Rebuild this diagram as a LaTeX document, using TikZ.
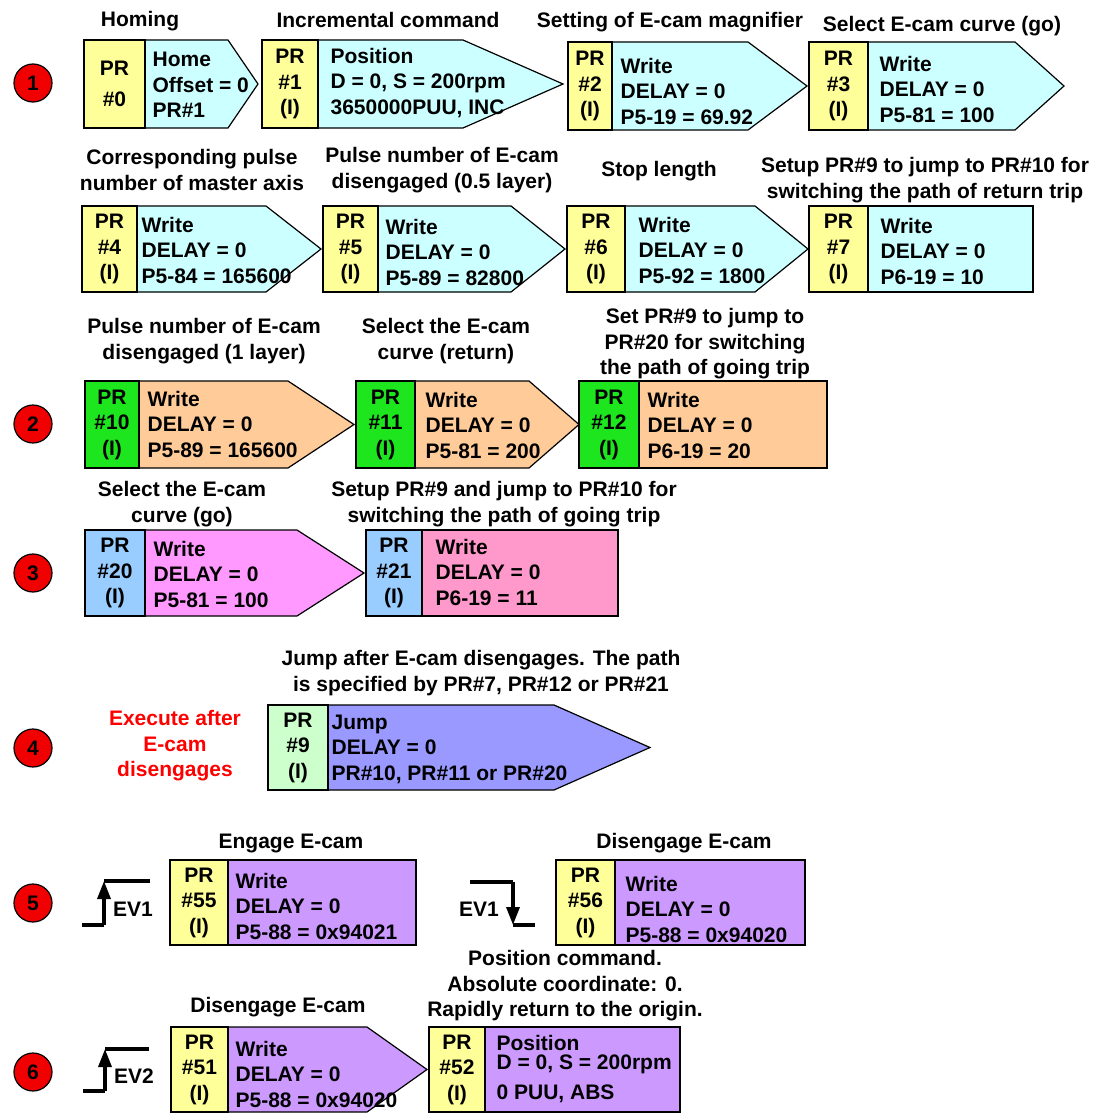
\documentclass[tikz,border=0pt]{standalone}
\usepackage{fontspec}
\setmainfont{Liberation Sans}
\usetikzlibrary{positioning, calc, arrows.meta}

\definecolor{tagyellow}{RGB}{255,255,153}
\definecolor{taggreen}{RGB}{30,230,30}
\definecolor{tagblue}{RGB}{153,204,255}
\definecolor{taglime}{RGB}{204,255,204}
\definecolor{camcyan}{RGB}{204,255,255}
\definecolor{camorange}{RGB}{255,204,153}
\definecolor{campink}{RGB}{255,153,255}
\definecolor{camrose}{RGB}{255,153,204}
\definecolor{camviolet}{RGB}{153,153,255}
\definecolor{campurple}{RGB}{204,153,255}
\definecolor{numred}{RGB}{240,0,0}

\begin{document}
\begin{tikzpicture}[x=1pt, y=-1pt, line width=1.2pt,
    every node/.style={font=\bfseries\fontsize{21}{25.5}\selectfont},
    tag/.style={draw, fill=tagyellow, align=center, inner sep=0pt},
    txt/.style={anchor=west, align=left, inner sep=0pt},
    hdr/.style={align=center, inner sep=0pt},
    num/.style={circle, draw, fill=numred, minimum size=38pt, inner sep=0pt},
    body/.style={draw, line join=miter},
    evline/.style={draw, line width=3.4pt},
    evtip/.style={-{Triangle[length=18pt,width=13pt]}}]
        \useasboundingbox (0,0) rectangle (1096,1113);

        % row 1
        \node[num] (n1) at (33,83) {1};
        \filldraw[body, fill=camcyan] (145,40) -- (228,40) -- (258,84) -- (228,128) -- (145,128) -- cycle;
        \node[tag, minimum width=61pt, minimum height=88pt] (pr0) at (114.5,84) {PR\\[6pt]\#0};
        \node[txt] (pr0-txt) at (152,85) {Home\\Offset = 0\\PR\#1};
        \node[hdr] (pr0-hdr) at (140,21) {Homing};

        \filldraw[body, fill=camcyan] (318,40) -- (463,40) -- (563,84) -- (463,128) -- (318,128) -- cycle;
        \node[tag, minimum width=56pt, minimum height=88pt] (pr1) at (290,84) {PR\\\#1\\(I)};
        \node[txt] (pr1-txt) at (330,83) {Position\\D = 0, S = 200rpm\\3650000PUU, INC};
        \node[hdr] (pr1-hdr) at (388,20) {Incremental command};

        \filldraw[body, fill=camcyan] (612,42) -- (748,42) -- (807,86) -- (748,130) -- (612,130) -- cycle;
        \node[tag, minimum width=44pt, minimum height=88pt] (pr2) at (590,86) {PR\\\#2\\(I)};
        \node[txt] (pr2-txt) at (620,91) {Write\\DELAY = 0\\P5-19 = 69.92};
        \node[hdr] (pr2-hdr) at (670,22) {Setting of E-cam magnifier};

        \filldraw[body, fill=camcyan] (868,42) -- (1015,42) -- (1064,86) -- (1015,130) -- (868,130) -- cycle;
        \node[tag, minimum width=59pt, minimum height=88pt] (pr3) at (838.5,86) {PR\\\#3\\(I)};
        \node[txt] (pr3-txt) at (879,89) {Write\\DELAY = 0\\P5-81 = 100};
        \node[hdr] (pr3-hdr) at (942,26) {Select E-cam curve (go)};

        % row 1, second line
        \filldraw[body, fill=camcyan] (137,206) -- (266,206) -- (321,249) -- (266,292) -- (137,292) -- cycle;
        \node[tag, minimum width=55pt, minimum height=86pt] (pr4) at (109.5,249) {PR\\\#4\\(I)};
        \node[txt] (pr4-txt) at (141,250) {Write\\DELAY = 0\\P5-84 = 165600};
        \node[hdr] (pr4-hdr) at (192,170) {Corresponding pulse\\number of master axis};

        \filldraw[body, fill=camcyan] (378,206) -- (511,206) -- (565,249) -- (511,292) -- (378,292) -- cycle;
        \node[tag, minimum width=55pt, minimum height=86pt] (pr5) at (350.5,249) {PR\\\#5\\(I)};
        \node[txt] (pr5-txt) at (385,252) {Write\\DELAY = 0\\P5-89 = 82800};
        \node[hdr] (pr5-hdr) at (442,170) {Pulse number of E-cam\\disengaged (0.5 layer)};

        \filldraw[body, fill=camcyan] (625,206) -- (755,206) -- (808,249) -- (755,292) -- (625,292) -- cycle;
        \node[tag, minimum width=58pt, minimum height=86pt] (pr6) at (596,249) {PR\\\#6\\(I)};
        \node[txt] (pr6-txt) at (638,250) {Write\\DELAY = 0\\P5-92 = 1800};
        \node[hdr] (pr6-hdr) at (659,171) {Stop length};

        \filldraw[body, fill=camcyan] (868,206) rectangle (1033,292);
        \node[tag, minimum width=59pt, minimum height=86pt] (pr7) at (838.5,249) {PR\\\#7\\(I)};
        \node[txt] (pr7-txt) at (880,251) {Write\\DELAY = 0\\P6-19 = 10};
        \node[hdr] (pr7-hdr) at (925,180) {Setup PR\#9 to jump to PR\#10 for\\switching the path of return trip};

        % row 2
        \node[num] (n2) at (33,424) {2};
        \filldraw[body, fill=camorange] (139,381) -- (288,381) -- (354,424.5) -- (288,468) -- (139,468) -- cycle;
        \node[tag, fill=taggreen, minimum width=54pt, minimum height=87pt] (pr10) at (112,424.5) {PR\\\#10\\(I)};
        \node[txt] (pr10-txt) at (147,424) {Write\\DELAY = 0\\P5-89 = 165600};
        \node[hdr] (pr10-hdr) at (204,341) {Pulse number of E-cam\\disengaged (1 layer)};

        \filldraw[body, fill=camorange] (415,381) -- (529,381) -- (579,424.5) -- (529,468) -- (415,468) -- cycle;
        \node[tag, fill=taggreen, minimum width=59pt, minimum height=87pt] (pr11) at (385.5,424.5) {PR\\\#11\\(I)};
        \node[txt] (pr11-txt) at (425,425) {Write\\DELAY = 0\\P5-81 = 200};
        \node[hdr] (pr11-hdr) at (446,341) {Select the E-cam\\curve (return)};

        \filldraw[body, fill=camorange] (639,381) rectangle (827,468);
        \node[tag, fill=taggreen, minimum width=60pt, minimum height=87pt] (pr12) at (609,424.5) {PR\\\#12\\(I)};
        \node[txt] (pr12-txt) at (647,425) {Write\\DELAY = 0\\P6-19 = 20};
        \node[hdr] (pr12-hdr) at (705,344) {Set PR\#9 to jump to\\PR\#20 for switching\\the path of going trip};

        % row 3
        \node[num] (n3) at (33,573) {3};
        \filldraw[body, fill=campink] (145,530) -- (297,530) -- (364,573) -- (297,616) -- (145,616) -- cycle;
        \node[tag, fill=tagblue, minimum width=60pt, minimum height=86pt] (pr20) at (115,573) {PR\\\#20\\(I)};
        \node[txt] (pr20-txt) at (153,574) {Write\\DELAY = 0\\P5-81 = 100};
        \node[hdr] (pr20-hdr) at (182,504) {Select the E-cam\\curve (go)};

        \filldraw[body, fill=camrose] (422,530) rectangle (618,616);
        \node[tag, fill=tagblue, minimum width=56pt, minimum height=86pt] (pr21) at (394,573) {PR\\\#21\\(I)};
        \node[txt] (pr21-txt) at (435,572) {Write\\DELAY = 0\\P6-19 = 11};
        \node[hdr] (pr21-hdr) at (504,504) {Setup PR\#9 and jump to PR\#10 for\\switching the path of going trip};

        % row 4
        \node[num] (n4) at (33,748) {4};
        \node[hdr, text=red] (note4) at (175,746) {Execute after\\E-cam\\disengages};
        \filldraw[body, fill=camviolet] (328,705) -- (554,705) -- (650,747.5) -- (554,790) -- (328,790) -- cycle;
        \node[tag, fill=taglime, minimum width=60pt, minimum height=85pt] (pr9) at (298,747.5) {PR\\\#9\\(I)};
        \node[txt] (pr9-txt) at (331,749) {Jump\\DELAY = 0\\PR\#10, PR\#11 or PR\#20};
        \node[hdr] (pr9-hdr) at (481,673) {Jump after E-cam disengages. The path\\is specified by PR\#7, PR\#12 or PR\#21};

        % row 5
        \node[num] (n5) at (33,903) {5};
        \coordinate (up1a) at (82,925);
        \coordinate (up1b) at (104,925);
        \coordinate (up1c) at (104,881);
        \coordinate (up1d) at (150,881);
        \path[evline] (up1a) -- (up1b);
        \path[evline, evtip] (up1b) -- (up1c);
        \path[evline] (up1c) -- (up1d);
        \node (up1-lbl) at (133,909) {EV1};

        \filldraw[body, fill=campurple] (228,860) rectangle (416,945);
        \node[tag, minimum width=58pt, minimum height=85pt] (pr55) at (199,902.5) {PR\\\#55\\(I)};
        \node[txt] (pr55-txt) at (235,906) {Write\\DELAY = 0\\P5-88 = 0x94021};
        \node[hdr] (pr55-hdr) at (291,843) {Engage E-cam};

        \coordinate (dn1a) at (470,882);
        \coordinate (dn1b) at (513,882);
        \coordinate (dn1c) at (513,925);
        \coordinate (dn1d) at (535,925);
        \path[evline] (dn1a) -- (dn1b);
        \path[evline, evtip] (dn1b) -- (dn1c);
        \path[evline] (dn1c) -- (dn1d);
        \node (dn1-lbl) at (479,909) {EV1};

        \filldraw[body, fill=campurple] (615,860) rectangle (805,945);
        \node[tag, minimum width=59pt, minimum height=85pt] (pr56) at (585.5,902.5) {PR\\\#56\\(I)};
        \node[txt] (pr56-txt) at (625,909) {Write\\DELAY = 0\\P5-88 = 0x94020};
        \node[hdr] (pr56-hdr) at (684,843) {Disengage E-cam};

        % row 6
        \node[num] (n6) at (33,1072) {6};
        \coordinate (up2a) at (83,1091);
        \coordinate (up2b) at (105,1091);
        \coordinate (up2c) at (105,1049);
        \coordinate (up2d) at (149,1049);
        \path[evline] (up2a) -- (up2b);
        \path[evline, evtip] (up2b) -- (up2c);
        \path[evline] (up2c) -- (up2d);
        \node (up2-lbl) at (134,1076) {EV2};

        \filldraw[body, fill=campurple] (228,1027) -- (367,1027) -- (427,1069.5) -- (367,1112) -- (228,1112) -- cycle;
        \node[tag, minimum width=57pt, minimum height=85pt] (pr51) at (199.5,1069.5) {PR\\\#51\\(I)};
        \node[txt] (pr51-txt) at (235,1074) {Write\\DELAY = 0\\P5-88 = 0x94020};
        \node[hdr] (pr51-hdr) at (278,1007) {Disengage E-cam};

        \filldraw[body, fill=campurple] (485,1027) rectangle (680,1112);
        \node[tag, minimum width=56pt, minimum height=85pt] (pr52) at (457,1069.5) {PR\\\#52\\(I)};
        \node[txt] (pr52-txt) at (496,1069) {Position\\[-6pt]D = 0, S = 200rpm\\[4pt]0 PUU, ABS};
        \node[hdr] (pr52-hdr) at (565,986) {Position command.\\Absolute coordinate: 0.\\Rapidly return to the origin.};
\end{tikzpicture}
\end{document}
